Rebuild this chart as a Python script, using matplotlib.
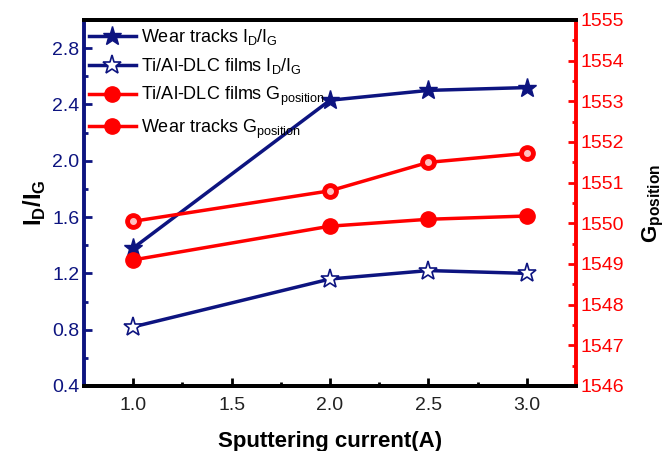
import matplotlib
matplotlib.use('Agg')
import matplotlib.pyplot as plt
from matplotlib.ticker import MultipleLocator

plt.rcParams['font.family'] = ['Liberation Sans', 'DejaVu Sans']

current = [1.0, 2.0, 2.5, 3.0]
wear_idig = [1.38, 2.43, 2.50, 2.52]
film_idig = [0.82, 1.16, 1.22, 1.20]
film_gpos = [1549.1, 1549.93, 1550.1, 1550.18]
wear_gpos = [1550.05, 1550.8, 1551.5, 1551.72]

navy = '#0d1480'
red = '#ff0000'

fig = plt.figure(figsize=(6.68, 4.51), dpi=100)
ax = fig.add_axes([84/668, 65/451, 492/668, 366/451])
ax2 = ax.twinx()

l1, = ax.plot(current, wear_idig, '-', color=navy, lw=2.5, marker='*', ms=14,
              mfc=navy, mec=navy, label='Wear tracks I$_\\mathregular{D}$/I$_\\mathregular{G}$')
l2, = ax.plot(current, film_idig, '-', color=navy, lw=2.5, marker='*', ms=14,
              mfc='white', mec=navy, mew=1.2, label='Ti/Al-DLC films I$_\\mathregular{D}$/I$_\\mathregular{G}$')
l3, = ax2.plot(current, film_gpos, '-', color=red, lw=2.5, marker='o', ms=11,
               mfc=red, mec=red, label='Ti/Al-DLC films G$_\\mathregular{position}$')
l4, = ax2.plot(current, wear_gpos, '-', color=red, lw=2.5, marker='o', ms=11,
               mfc=red, mec=red, label='Wear tracks G$_\\mathregular{position}$')
ax2.plot(current, wear_gpos, 'o', color='#ffc0c0', ms=4, zorder=5)

ax.set_xlim(0.75, 3.25)
ax.set_ylim(0.4, 3.0)
ax2.set_ylim(1546, 1555)

ax.xaxis.set_major_locator(MultipleLocator(0.5))
ax.xaxis.set_minor_locator(MultipleLocator(0.25))
ax.yaxis.set_major_locator(MultipleLocator(0.4))
ax.yaxis.set_minor_locator(MultipleLocator(0.2))
ax2.yaxis.set_major_locator(MultipleLocator(1))
ax2.yaxis.set_minor_locator(MultipleLocator(0.5))

for a in (ax, ax2):
    for s in a.spines.values():
        s.set_linewidth(2.8)
ax.spines['left'].set_color(navy)
ax2.spines['left'].set_visible(False)
ax2.spines['right'].set_color(red)
ax.spines['right'].set_visible(False)

ax.tick_params(axis='x', which='both', direction='in', top=False, labelsize=14,
               labelcolor='#222222', width=2, pad=8)
ax.tick_params(axis='x', which='major', length=6)
ax.tick_params(axis='x', which='minor', length=3)
ax.tick_params(axis='y', which='both', direction='in', colors=navy, labelsize=14, width=2)
ax.tick_params(axis='y', which='major', length=6)
ax.tick_params(axis='y', which='minor', length=3)
ax2.tick_params(axis='y', which='both', direction='in', colors=red, labelsize=14, width=2)
ax2.tick_params(axis='y', which='major', length=6)
ax2.tick_params(axis='y', which='minor', length=3)

ax.set_xlabel('Sputtering current(A)', fontsize=16, fontweight='bold', labelpad=12)
ax.set_ylabel('I$_\\mathregular{D}$/I$_\\mathregular{G}$', fontsize=17, fontweight='bold', labelpad=3)
ax2.set_ylabel('G$_\\mathregular{position}$', fontsize=16, fontweight='bold', labelpad=12)

ax.legend(handles=[l1, l2, l3, l4], loc='upper left', frameon=False, fontsize=13,
          handlelength=2.6, handletextpad=0.3, labelspacing=0.5,
          borderaxespad=0.0, bbox_to_anchor=(-0.005, 1.0))

fig.savefig('out.png', dpi=100)
